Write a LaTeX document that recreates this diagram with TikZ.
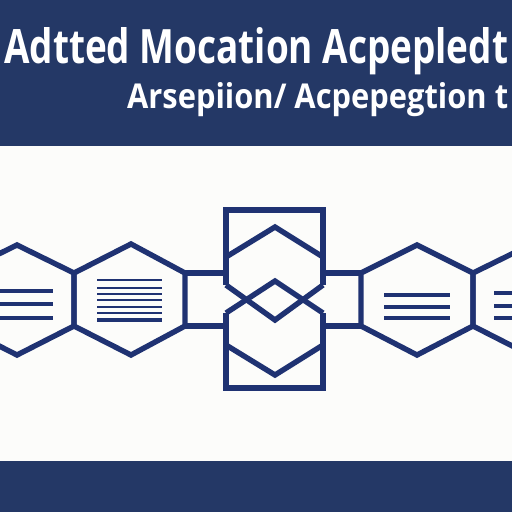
\documentclass[tikz,border=0pt]{standalone}
\usepackage{fontspec}
\setmainfont{Open Sans}
\usepackage{graphicx}
\definecolor{banner}{HTML}{243866}
\definecolor{ink}{HTML}{1F3272}
\definecolor{paper}{HTML}{FCFCFA}
\tikzset{
  shapeline/.style={draw=ink, line width=5.4pt, line join=miter, line cap=butt},
  textline/.style={draw=ink, line width=3.6pt},
  titletext/.style={anchor=base west, inner sep=0pt, text=white}
}
\begin{document}
\begin{tikzpicture}[x=1pt,y=-1pt]
\useasboundingbox (0,0) rectangle (512,512);
\fill[paper] (0,0) rectangle (512,512);
\fill[banner] (0,0) rectangle (512,146);
\fill[banner] (0,461) rectangle (512,512);
\node[titletext] (title1) at (4,63) {\resizebox{504pt}{36pt}{\bfseries Adtted Mocation Acpepledt}};
\node[titletext] (title2) at (127,108) {\resizebox{381pt}{26pt}{\bfseries Arsepiion/ Acpepegtion t}};
% named points
\coordinate (h2rt) at (185,273); \coordinate (h2rb) at (185,326);
\coordinate (clt) at (226,273); \coordinate (clb) at (226,326);
\coordinate (crt) at (323,273); \coordinate (crb) at (323,326);
\coordinate (h3lt) at (361,273); \coordinate (h3lb) at (361,326);
% hexagons
\draw[shapeline] (-40,273) -- (17,245) -- (74,273) -- (74,326) -- (17,355) -- (-40,326) -- cycle;
\draw[shapeline] (74,273) -- (131,244) -- (185,273) -- (185,326) -- (131,355) -- (74,326) -- cycle;
\draw[shapeline] (361,273) -- (417,245) -- (473,273) -- (473,326) -- (417,355) -- (361,326) -- cycle;
\draw[shapeline] (473,273) -- (530,245) -- (587,273) -- (587,326) -- (530,355) -- (473,326) -- cycle;
% connectors
\draw[shapeline] (h2rt) -- (clt);
\draw[shapeline] (h2rb) -- (clb);
\draw[shapeline] (crt) -- (h3lt);
\draw[shapeline] (crb) -- (h3lb);
% centre frame
\draw[shapeline] (226,285) -- (226,210) -- (323,210) -- (323,285);
\draw[shapeline] (226,313) -- (226,388) -- (323,388) -- (323,313);
\draw[shapeline] (226,257) -- (275,227) -- (323,257);
\draw[shapeline] (226,285) -- (275,320) -- (323,285);
\draw[shapeline] (226,313) -- (275,281) -- (323,313);
\draw[shapeline] (226,345) -- (275,375) -- (323,345);
% text lines
\foreach \y in {291,304,318} \draw[textline] (0,\y) -- (53,\y);
\foreach \y in {280,288,294,300,307} \draw[textline, line width=2.8pt] (97,\y) -- (162,\y);
\draw[textline, line width=1.8pt] (97,313) -- (162,313);
\draw[textline, line width=4pt] (97,319.5) -- (162,319.5);
\foreach \y in {295,307,318} \draw[textline] (384,\y) -- (450,\y);
\foreach \y in {293,306,318} \draw[textline] (494,\y) -- (515,\y);
\end{tikzpicture}
\end{document}
